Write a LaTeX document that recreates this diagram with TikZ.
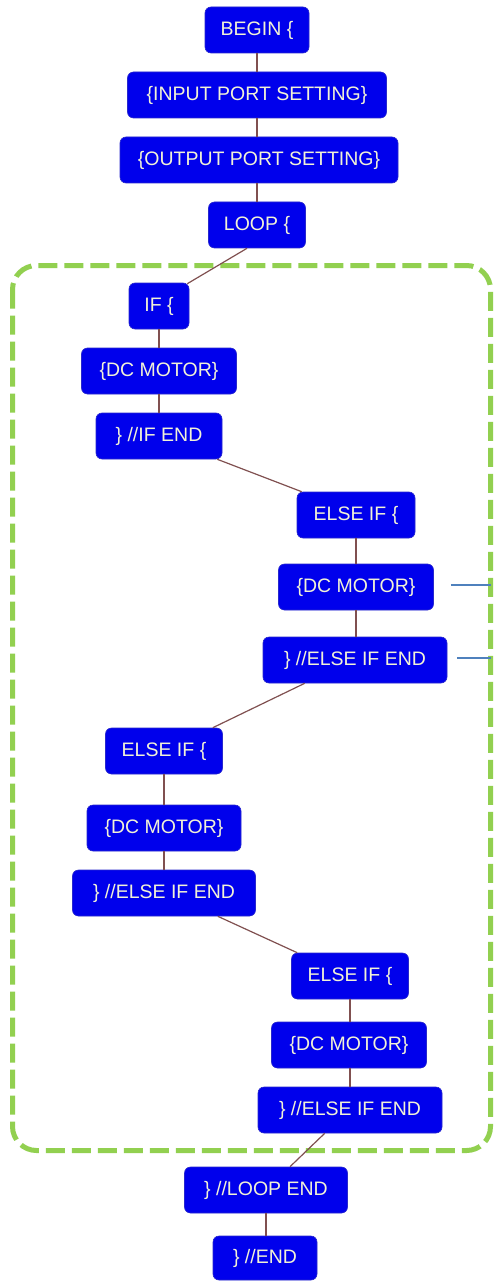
\documentclass[tikz,border=0pt]{standalone}
\usepackage{fontspec}
\setmainfont{Liberation Sans}
\definecolor{boxfill}{RGB}{0,0,236}
\definecolor{boxedge}{RGB}{40,40,205}
\definecolor{boxtext}{RGB}{242,242,214}
\definecolor{linkcol}{RGB}{128,80,80}
\definecolor{groupcol}{RGB}{146,208,80}
\definecolor{notecol}{RGB}{79,129,189}

\begin{document}
\begin{tikzpicture}[x=1pt,y=-1pt,
  stmt/.style={draw=boxedge, fill=boxfill, text=boxtext, rounded corners=6pt,
    minimum height=46pt, inner sep=0pt, line width=0.6pt,
    font=\fontsize{19.5}{22}\selectfont},
  link/.style={draw=linkcol, line width=1.2pt},
  note/.style={draw=notecol, line width=1.6pt},
  group/.style={draw=groupcol, line width=5pt, dash pattern=on 19pt off 7pt,
    rounded corners=24pt}]

\useasboundingbox (0,0) rectangle (494,1281);
\fill[white] (0,0) rectangle (494,1281);

% loop body frame
\draw[group] (12.5,265.5) rectangle (490.5,1150.5);

% program statements
\node[stmt, minimum width=104pt] (begin)    at (257,30)   {BEGIN \{};
\node[stmt, minimum width=259pt] (inport)   at (257,95)   {\{INPUT PORT SETTING\}};
\node[stmt, minimum width=278pt] (outport)  at (259,160)  {\{OUTPUT PORT SETTING\}};
\node[stmt, minimum width=97pt]  (loop)     at (257,225)  {LOOP \{};

\node[stmt, minimum width=60pt]  (if)       at (159,306)  {IF \{};
\node[stmt, minimum width=155pt] (dca)      at (159,371)  {\{DC MOTOR\}};
\node[stmt, minimum width=126pt] (ifend)    at (159,436)  {\} //IF END};

\node[stmt, minimum width=118pt] (elifa)    at (356,515)  {ELSE IF \{};
\node[stmt, minimum width=155pt] (dcb)      at (356,587)  {\{DC MOTOR\}};
\node[stmt, minimum width=184pt] (elifenda) at (355,660)  {\} //ELSE IF END};

\node[stmt, minimum width=117pt] (elifb)    at (164,751)  {ELSE IF \{};
\node[stmt, minimum width=154pt] (dcc)      at (164,828)  {\{DC MOTOR\}};
\node[stmt, minimum width=183pt] (elifendb) at (164,893)  {\} //ELSE IF END};

\node[stmt, minimum width=117pt] (elifc)    at (350,976)  {ELSE IF \{};
\node[stmt, minimum width=155pt] (dcd)      at (349,1045) {\{DC MOTOR\}};
\node[stmt, minimum width=184pt] (elifendc) at (350,1110) {\} //ELSE IF END};

\node[stmt, minimum width=163pt] (loopend)  at (266,1190) {\} //LOOP END};
\node[stmt, minimum width=104pt, minimum height=44pt] (end) at (265,1258) {\} //END};

% flow links
\draw[link] (begin.south) -- (begin.south |- inport.north);
\draw[link] (inport.south) -- (inport.south |- outport.north);
\draw[link] (loop.north |- outport.south) -- (loop.north);
\draw[link] ([xshift=-10pt]loop.south) -- ([xshift=-2pt,yshift=-1pt]if.north east);
\draw[link] (if.south) -- (if.south |- dca.north);
\draw[link] (dca.south) -- (dca.south |- ifend.north);
\draw[link] ([xshift=-5pt]ifend.south east) -- ([xshift=5pt]elifa.north west);
\draw[link] (elifa.south) -- (elifa.south |- dcb.north);
\draw[link] (dcb.south) -- (dcb.south |- elifenda.north);
\draw[link] ([xshift=42pt]elifenda.south west) -- ([xshift=-10pt]elifb.north east);
\draw[link] (elifb.south) -- (elifb.south |- dcc.north);
\draw[link] (dcc.south) -- (dcc.south |- elifendb.north);
\draw[link] ([xshift=-38pt]elifendb.south east) -- ([xshift=6pt]elifc.north west);
\draw[link] (elifc.south) -- (elifc.south |- dcd.north);
\draw[link] (elifendc.north |- dcd.south) -- (elifendc.north);
\draw[link] ([xshift=67pt]elifendc.south west) -- ([xshift=24pt]loopend.north);
\draw[link] (loopend.south) -- (loopend.south |- end.north);

% pointers to the frame edge
\coordinate (pa) at (491,585);
\coordinate (pb) at (491,658);
\draw[note] ([xshift=17pt]dcb.east |- pa) -- (pa);
\draw[note] ([xshift=10pt]elifenda.east |- pb) -- (pb);
\end{tikzpicture}
\end{document}
